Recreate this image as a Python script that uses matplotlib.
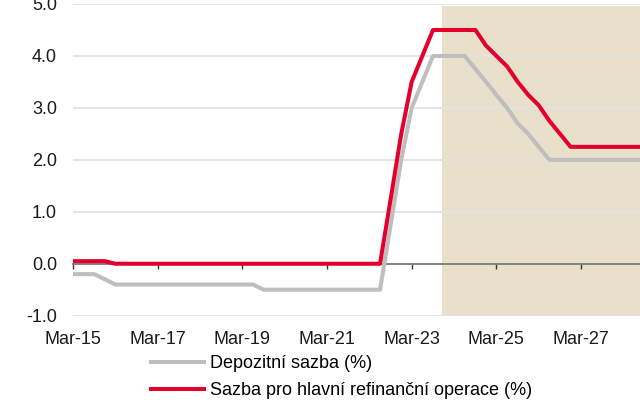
import matplotlib
matplotlib.use("Agg")
import matplotlib.pyplot as plt
import pandas as pd

plt.rcParams['font.family'] = ['Liberation Sans', 'DejaVu Sans']

# quarterly observations Mar-2015 .. Sep-2028
dates = pd.date_range('2015-03-01', '2028-09-01', freq='3MS')

depo = [-0.2, -0.2, -0.2, -0.3,
        -0.4, -0.4, -0.4, -0.4,
        -0.4, -0.4, -0.4, -0.4,
        -0.4, -0.4, -0.4, -0.4,
        -0.4, -0.4, -0.5, -0.5,
        -0.5, -0.5, -0.5, -0.5,
        -0.5, -0.5, -0.5, -0.5,
        -0.5, -0.5, 0.75, 2.0,
        3.0, 3.5, 4.0, 4.0,
        4.0, 4.0, 3.75, 3.5,
        3.25, 3.0, 2.7, 2.5,
        2.25, 2.0, 2.0, 2.0,
        2.0, 2.0, 2.0, 2.0,
        2.0, 2.0, 2.0]

mro = [0.05, 0.05, 0.05, 0.05,
       0.0, 0.0, 0.0, 0.0,
       0.0, 0.0, 0.0, 0.0,
       0.0, 0.0, 0.0, 0.0,
       0.0, 0.0, 0.0, 0.0,
       0.0, 0.0, 0.0, 0.0,
       0.0, 0.0, 0.0, 0.0,
       0.0, 0.0, 1.25, 2.5,
       3.5, 4.0, 4.5, 4.5,
       4.5, 4.5, 4.5, 4.2,
       4.0, 3.8, 3.5, 3.25,
       3.05, 2.75, 2.5, 2.25,
       2.25, 2.25, 2.25, 2.25,
       2.25, 2.25, 2.25]

series_labels = ['Depozitní sazba (%)', 'Sazba pro hlavní refinanční operace (%)']
tick_dates = ['2015-03-01', '2017-03-01', '2019-03-01', '2021-03-01',
              '2023-03-01', '2025-03-01', '2027-03-01']
tick_labels = ['Mar-15', 'Mar-17', 'Mar-19', 'Mar-21', 'Mar-23', 'Mar-25', 'Mar-27']
y_ticks = [-1.0, 0.0, 1.0, 2.0, 3.0, 4.0, 5.0]
forecast_start = '2023-11-20'

GRAY = '#BFBDBD'
RED = '#E4002B'
SHADE = '#E8E0CB'
FS = 13

fig = plt.figure(figsize=(6.4, 4), dpi=100)
ax = fig.add_axes([73/640, 1 - 315.7/400, 1 - 73/640, (315.7 - 4)/400])

x_end = pd.Timestamp('2028-07-22')
ax.axvspan(pd.Timestamp(forecast_start), pd.Timestamp('2030-01-01'),
           ymin=0, ymax=0.995, color=SHADE, lw=0, zorder=0.2)

l1, = ax.plot(dates, depo, color=GRAY, lw=2.9, zorder=3, label=series_labels[0])
l2, = ax.plot(dates, mro, color=RED, lw=2.9, zorder=4, label=series_labels[1])

ax.set_xlim(pd.Timestamp('2015-03-01'), x_end)
ax.set_ylim(-1.0, 5.0)

ax.set_yticks(y_ticks)
ax.set_yticklabels([f'{v:.1f}' for v in y_ticks])
ax.set_xticks([pd.Timestamp(d) for d in tick_dates])
ax.set_xticklabels(tick_labels)

ax.set_axisbelow(True)
ax.yaxis.grid(True, color='#E3E3E3', lw=1.3)
ax.xaxis.grid(False)

for s in ['top', 'right', 'left']:
    ax.spines[s].set_visible(False)
ax.spines['bottom'].set_position(('data', 0))
ax.spines['bottom'].set_color('#7A7A7A')
ax.spines['bottom'].set_linewidth(1.3)
ax.spines['bottom'].set_zorder(2)

ax.tick_params(axis='y', length=0, pad=11.5, labelsize=FS, labelcolor='#1A1A1A')
ax.tick_params(axis='x', direction='out', length=3.5, width=1, color='#333333',
               pad=45, labelsize=FS, labelcolor='#1A1A1A')

fig.legend(handles=[l1, l2], loc='center left',
           bbox_to_anchor=(151/640, 1 - 377/400), frameon=False,
           fontsize=FS, handlelength=2.95, handletextpad=0.3,
           borderpad=0, borderaxespad=0, labelspacing=0.55)

fig.savefig('out.png', dpi=100)
